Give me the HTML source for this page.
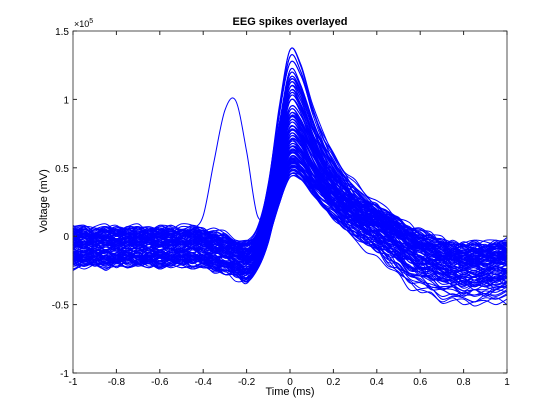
<!DOCTYPE html>
<html><head><meta charset="utf-8"><style>
body{margin:0;background:#fff}
svg{display:block;font-family:"Liberation Sans",sans-serif}
</style></head><body>
<svg id="chart" width="560" height="420">
<rect width="560" height="420" fill="#fff"/>
<g id="traces"></g>
<g id="axes"></g>
<text x="290" y="25" text-anchor="middle" font-size="11" font-weight="bold">EEG spikes overlayed</text>
<text x="290" y="395" text-anchor="middle" font-size="11">Time (ms)</text>
<text x="47" y="201" text-anchor="middle" font-size="11" transform="rotate(-90 47 201)">Voltage (mV)</text>
<text x="74" y="27" font-size="9">×10<tspan dy="-4" font-size="7">5</tspan></text>
</svg>
<script>
const times=[-1,-0.95,-0.9,-0.85,-0.8,-0.75,-0.7,-0.65,-0.6,-0.55,-0.5,-0.45,-0.4,-0.35,-0.3,-0.25,-0.2,-0.15,-0.1,-0.05,0,0.05,0.1,0.15,0.2,0.25,0.3,0.35,0.4,0.45,0.5,0.55,0.6,0.65,0.7,0.75,0.8,0.85,0.9,0.95,1];
const spikeShape=[0,0,0,0,0,0,0,0,0,0,0,0,0,0,0,0,0.02,0.12,0.35,0.72,0.98,0.88,0.68,0.52,0.4,0.3,0.22,0.15,0.1,0.06,0.03,0,0,0,0,0,0,0,0,0,0];
const baseline=[-0.08,-0.08,-0.08,-0.08,-0.08,-0.08,-0.08,-0.08,-0.08,-0.08,-0.08,-0.08,-0.09,-0.11,-0.13,-0.16,-0.2,-0.2,-0.15,-0.1,-0.04,-0.01,0,0,0,0,0,0,0,-0.02,-0.05,-0.08,-0.12,-0.15,-0.18,-0.2,-0.21,-0.21,-0.21,-0.2,-0.19];
const lateWeight=[0,0,0,0,0,0,0,0,0,0,0,0,0,0,0,0,0,0,0,0,0,0.05,0.1,0.2,0.3,0.4,0.5,0.6,0.7,0.8,0.9,1,1,1,1,1,1,1,1,1,1];
const wiggle=[0.02,-0.01,0.03,0.01,-0.02,0.01,-0.01,0.02,-0.03,0.01,0.01,-0.02,0.03,-0.01,0.01,0.02,-0.02,0.01,-0.01,0,0,0.01,-0.01,0.02,-0.01,0.01,-0.02,0.01,0.03,-0.01,0.02,-0.03,0.01,0.03,-0.02,0.01,0.03,-0.03,0.02,-0.01,0.03];
const peaks=[1.43,1.38,1.33,1.28,1.25,1.2,1.15,1.1,1.05,1.0,0.98,0.95,0.92,0.9,0.88,0.85,0.82,0.8,0.78,0.75,0.72,0.7,0.68,0.65,0.62,0.6,0.58,0.55,0.53,0.5,0.5,0.48,0.55,0.6,0.7,0.85,0.95,1.05,1.12,1.22,0.66,0.74,0.57,0.52,0.9,0.8,1.0,0.63,0.59,0.7,0.52,0.56,0.61,0.67,0.76,0.83,0.93,1.08,1.18,0.54];
const offsets=[0.04,-0.06,0.1,-0.1,0.01,0.12,-0.08,0.05,-0.14,0.07,0,-0.03,0.1,-0.09,0.05,-0.12,0.14,-0.02,0.03,-0.07,0.09,-0.11,0.07,-0.05,0.02,0.11,-0.13,0.05,-0.03,0.12,-0.09,0.03,0.07,-0.12,0.09,-0.01,0.05,-0.07,0.1,-0.04,0.01,-0.1,0.12,-0.05,0.03,-0.09,0.07,0,-0.14,0.09,0.06,-0.04,0.11,-0.08,0.02,-0.11,0.08,-0.06,0.04,0.13];
const lateOffsets=[0.05,-0.1,0.1,-0.15,0,0.12,-0.2,0.03,-0.25,0.08,-0.05,0.02,0.15,-0.12,0.06,-0.18,0.1,-0.02,0.04,-0.08,0.12,-0.22,0.07,-0.05,0.01,0.14,-0.28,0.05,-0.04,0.1,-0.12,0.03,0.08,-0.15,0.06,-0.01,0.09,-0.09,0.13,-0.06,0.02,-0.13,0.11,-0.07,0.04,-0.1,0.05,0,-0.2,0.08,0.07,-0.03,0.12,-0.1,0.03,-0.14,0.1,-0.05,0.02,0.15];
const oddTrace=[-0.02,0,0.02,-0.01,0.01,-0.02,0,0.02,0.01,-0.01,0,0.05,0.15,0.55,0.92,0.99,0.62,0.15,0.2,0.5,0.8,0.72,0.55,0.42,0.32,0.24,0.16,0.1,0.05,0,-0.05,-0.1,-0.15,-0.2,-0.24,-0.27,-0.3,-0.3,-0.28,-0.26,-0.25];
const xTicks=[-1,-0.8,-0.6,-0.4,-0.2,0,0.2,0.4,0.6,0.8,1];
const xTickLabels=["-1","-0.8","-0.6","-0.4","-0.2","0","0.2","0.4","0.6","0.8","1"];
const yTicks=[-1,-0.5,0,0.5,1,1.5];
const yTickLabels=["-1","-0.5","0","0.5","1","1.5"];

const X0=73,X1=507,Y0=373,Y1=31;
const xs=v=>X0+(v+1)/2*(X1-X0);
const ys=v=>Y0-(v+1)/2.5*(Y0-Y1);
const NS="http://www.w3.org/2000/svg";
const tg=document.getElementById('traces');
function smoothPath(vals){
  const pts=vals.map((v,i)=>[xs(times[i]),ys(v)]);
  let d='M'+pts[0][0].toFixed(1)+' '+pts[0][1].toFixed(1);
  for(let i=0;i<pts.length-1;i++){
    const p0=pts[Math.max(0,i-1)],p1=pts[i],p2=pts[i+1],p3=pts[Math.min(pts.length-1,i+2)];
    const c1=[p1[0]+(p2[0]-p0[0])/6,p1[1]+(p2[1]-p0[1])/6];
    const c2=[p2[0]-(p3[0]-p1[0])/6,p2[1]-(p3[1]-p1[1])/6];
    d+='C'+c1[0].toFixed(1)+' '+c1[1].toFixed(1)+' '+c2[0].toFixed(1)+' '+c2[1].toFixed(1)+' '+p2[0].toFixed(1)+' '+p2[1].toFixed(1);
  }
  return d;
}
function addPath(vals){
  const p=document.createElementNS(NS,'path');
  p.setAttribute('d',smoothPath(vals));
  p.setAttribute('fill','none');p.setAttribute('stroke','#0000ff');p.setAttribute('stroke-width','1');
  
  
  tg.appendChild(p);
}
const n=times.length, m=peaks.length;
[0,1].forEach(pass=>{
  peaks.forEach((pk,k)=>{
    const j=pass?(k+23)%m:k;
    const ph=pass?k*11+5:k*7;
    const vals=times.map((t,i)=>baseline[i]+pk*spikeShape[i]+(offsets[j]*(1-lateWeight[i])+lateOffsets[j]*lateWeight[i])*(1-spikeShape[i])+wiggle[(i+ph)%n]*(1-spikeShape[i]));
    addPath(vals);
  });
});
addPath(oddTrace);

const ag=document.getElementById('axes');
function el(tag,attrs,txt){const e=document.createElementNS(NS,tag);for(const a in attrs)e.setAttribute(a,attrs[a]);if(txt!==undefined)e.textContent=txt;ag.appendChild(e);return e;}
const box=el('rect',{x:X0,y:Y1,width:X1-X0,height:Y0-Y1,fill:'none',stroke:'#262626','stroke-width':'0.8'});


xTicks.forEach((v,i)=>{
  const x=xs(v);
  el('line',{x1:x,x2:x,y1:Y0,y2:Y0-4,stroke:'#262626'});
  el('line',{x1:x,x2:x,y1:Y1,y2:Y1+4,stroke:'#262626'});
  const t=el('text',{x:x,y:Y0+12,'text-anchor':'middle','font-size':'10',fill:'#000'},xTickLabels[i]);
  
  
});
yTicks.forEach((v,i)=>{
  const y=ys(v);
  el('line',{x1:X0,x2:X0+4,y1:y,y2:y,stroke:'#262626'});
  el('line',{x1:X1,x2:X1-4,y1:y,y2:y,stroke:'#262626'});
  const t=el('text',{x:X0-4,y:y+4,'text-anchor':'end','font-size':'10',fill:'#000'},yTickLabels[i]);
  
  
});
</script>
</body></html>
